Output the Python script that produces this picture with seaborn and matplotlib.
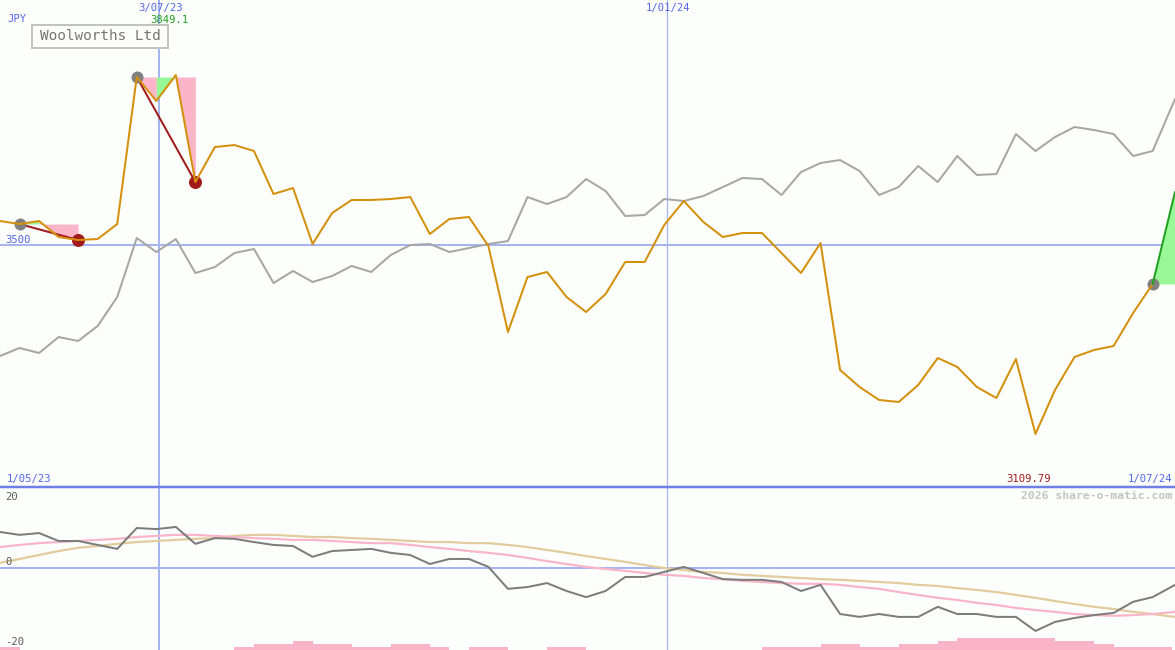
import numpy as np
import pandas as pd
import matplotlib
matplotlib.use("Agg")
import matplotlib.pyplot as plt
import matplotlib.transforms as mtransforms
import matplotlib.dates as mdates
from matplotlib.patches import Rectangle
import seaborn as sns

# ---------------- data ----------------
start_date = "2023-05-07"
latest_date = "2024-07-01"
currency = "JPY"
title = "Woolworths Ltd"

price = [3548.4, 3542.2, 3548.4, 3515.5, 3509.3, 3511.4, 3542.2, 3845.0, 3795.6, 3849.1,
         3628.7, 3700.8, 3704.9, 3692.6, 3604.0, 3616.4, 3501.1, 3564.9, 3591.7, 3591.7,
         3593.7, 3597.8, 3521.7, 3552.5, 3556.7, 3496.9, 3319.8, 3433.1, 3443.4, 3391.9,
         3361.0, 3398.1, 3464.0, 3464.0, 3540.2, 3589.6, 3546.4, 3515.5, 3523.7, 3523.7,
         3482.5, 3441.3, 3503.1, 3241.6, 3206.6, 3179.8, 3175.7, 3210.7, 3266.3, 3247.8,
         3206.6, 3183.9, 3264.2, 3109.8, 3200.4, 3268.4, 3282.8, 3291.0, 3359.0, 3418.7]
latest_price = 3608.2

index_line = [3270.4, 3286.9, 3276.6, 3309.5, 3301.3, 3332.2, 3391.9, 3513.4, 3484.6, 3511.4,
              3441.3, 3453.7, 3482.5, 3490.8, 3420.7, 3445.5, 3422.8, 3435.2, 3455.8, 3443.4,
              3478.4, 3499.0, 3501.1, 3484.6, 3492.8, 3501.1, 3507.2, 3597.8, 3583.4, 3597.8,
              3634.9, 3610.2, 3558.7, 3560.8, 3593.7, 3589.6, 3599.9, 3618.4, 3637.0, 3634.9,
              3602.0, 3649.3, 3667.9, 3674.0, 3651.4, 3602.0, 3618.4, 3661.7, 3628.7, 3682.3,
              3643.2, 3645.2, 3727.6, 3692.6, 3721.4, 3742.0, 3735.8, 3727.6, 3682.3, 3692.6,
              3799.7]

momentum = [10.0, 9.2, 9.7, 7.5, 7.5, 6.4, 5.3, 11.1, 10.8, 11.4,
            6.7, 8.3, 8.1, 7.2, 6.4, 6.1, 3.1, 4.7, 5.0, 5.3,
            4.2, 3.6, 1.1, 2.5, 2.5, 0.3, -5.8, -5.3, -4.2, -6.4,
            -8.1, -6.4, -2.5, -2.5, -1.1, 0.3, -1.4, -3.1, -3.3, -3.3,
            -3.9, -6.4, -4.7, -12.8, -13.6, -12.8, -13.6, -13.6, -10.8, -12.8,
            -12.8, -13.6, -13.6, -17.5, -15.0, -13.9, -13.1, -12.5, -9.4, -8.1,
            -4.7]

ma_fast = [5.8, 6.4, 6.9, 7.2, 7.5, 7.8, 8.1, 8.6, 8.9, 9.2,
           9.2, 8.9, 8.6, 8.3, 8.1, 7.8, 7.8, 7.5, 7.2, 6.9,
           6.9, 6.4, 5.8, 5.3, 4.7, 4.2, 3.6, 2.8, 1.9, 1.1,
           0.3, -0.3, -0.8, -1.4, -1.9, -2.2, -2.8, -3.1, -3.6, -3.9,
           -4.2, -4.4, -4.4, -4.7, -5.3, -5.8, -6.7, -7.5, -8.3, -8.9,
           -9.7, -10.3, -11.1, -11.7, -12.2, -12.8, -13.1, -13.3, -13.1, -12.8,
           -12.2]

ma_slow = [1.4, 2.5, 3.6, 4.7, 5.6, 6.1, 6.7, 7.2, 7.5, 7.8,
           8.1, 8.3, 8.9, 9.2, 9.2, 8.9, 8.6, 8.6, 8.3, 8.1,
           7.8, 7.5, 7.2, 7.2, 6.9, 6.9, 6.4, 5.8, 5.0, 4.2,
           3.3, 2.5, 1.7, 0.8, 0.0, -0.6, -1.1, -1.4, -1.9, -2.2,
           -2.5, -2.8, -3.1, -3.3, -3.6, -3.9, -4.2, -4.7, -5.0, -5.6,
           -6.1, -6.7, -7.5, -8.3, -9.2, -10.0, -10.8, -11.4, -12.2, -12.8,
           -13.6]

volume = [1, 0, 0, 0, 0, 0, 0, 0, 0, 0,
          0, 0, 1, 2, 2, 3, 2, 2, 1, 1,
          2, 2, 1, 0, 1, 1, 0, 0, 1, 1,
          0, 0, 0, 0, 0, 0, 0, 0, 0, 1,
          1, 1, 2, 2, 1, 1, 2, 2, 3, 4,
          4, 4, 4, 4, 3, 3, 2, 1, 1, 1]

events = [(1, 4), (7, 10)]          # (start index, end index) of drops
marker_dates = ["2023-07-03", "2024-01-01"]
marker_labels = ["3/07/23", "1/01/24"]
high_label = "3849.1"
low_label = "3109.79"
ref_level = 3500
ref_label = "3500"
start_label = "1/05/23"
end_label = "1/07/24"
lower_ticks = [20, 0, -20]
watermark = "2026 share-o-matic.com"

# ---------------- style ----------------
BG = "#fbfefb"
BLUE_LINE = "#a6b4f2"
BLUE_DARK = "#6e7fe6"
BLUE_TEXT = "#5366e8"
ORANGE = "#d4900a"
GREY = "#a6a6a6"
DGREY = "#7c7c7c"
PINK = "#f9b4c8"
PINK_FILL = "#fbb5c9"
TAN = "#e2cb9c"
GREEN_FILL = "#98f898"
GREEN_LINE = "#20a020"
DARKRED = "#a11b1b"
PX = 0.72  # points per pixel at 100 dpi
tick_offsets = [-1, 6, -2]   # pixel nudges of the lower-panel labels

sns.set_theme(style="white")
plt.rcParams["font.family"] = ["DejaVu Sans Mono", "DejaVu Sans"]

W, H = 1175, 650
TOP_H = 487
fig = plt.figure(figsize=(W / 100, H / 100), dpi=100)
fig.patch.set_facecolor(BG)

ax = fig.add_axes([0, (H - TOP_H) / H, 1, TOP_H / H])
axv = fig.add_axes([0, 0, 1, (H - TOP_H) / H])
axl = axv.twinx()

weeks = pd.date_range(start_date, periods=len(price), freq="7D")
latest = pd.Timestamp(latest_date)
all_dates = weeks.append(pd.DatetimeIndex([latest]))

def num(d):
    return mdates.date2num(pd.Timestamp(d))

for a in (ax, axv, axl):
    for s in a.spines.values():
        s.set_visible(False)
    a.set_xlim(weeks[0], latest)

ax.set_facecolor(BG)
axv.set_facecolor(BG)
axl.patch.set_visible(False)

# ---------------- upper panel ----------------
ax.set_ylim(3000.6, 4003.6)
ax.axhline(ref_level, color=BLUE_LINE, lw=2 * PX, zorder=1)
ax.axvline(pd.Timestamp(marker_dates[0]), color=BLUE_LINE, lw=2 * PX, zorder=1)
ax.axvline(pd.Timestamp(marker_dates[1]), color=BLUE_LINE, lw=1.2 * PX, zorder=1)

# drop shading, coloured by segment direction
for s, e in events:
    base = price[s]
    for i in range(s, e):
        col = GREEN_FILL if price[i + 1] > price[i] else PINK_FILL
        ax.fill_between(weeks[i:i + 2], base, price[i:i + 2], color=col, lw=0, zorder=2)
base = price[-1]
ax.fill_between([weeks[-1], latest], base, [price[-1], latest_price],
                color=GREEN_FILL, lw=0, zorder=2)

sns.lineplot(x=all_dates, y=index_line, ax=ax, color=GREY, lw=2 * PX,
             estimator=None, sort=False, zorder=3)

for s, e in events:
    sns.lineplot(x=[weeks[s], weeks[e]], y=[price[s], price[e]], ax=ax,
                 color=DARKRED, lw=2 * PX, estimator=None, sort=False, zorder=4)
    ax.plot([weeks[s]], [price[s]], "o", color="#808080", ms=12 * PX, mew=0, zorder=5)
    ax.plot([weeks[e]], [price[e]], "o", color=DARKRED, ms=13 * PX, mew=0, zorder=5)

sns.lineplot(x=weeks, y=price, ax=ax, color=ORANGE, lw=2 * PX,
             estimator=None, sort=False, zorder=6)
sns.lineplot(x=[weeks[-1], latest], y=[price[-1], latest_price], ax=ax,
             color=GREEN_LINE, lw=2 * PX, estimator=None, sort=False, zorder=6)
ax.plot([weeks[-1]], [price[-1]], "o", color="#808080", ms=12 * PX, mew=0, zorder=5)

ax.set_xticks([]); ax.set_yticks([])
ax.set_xlabel(""); ax.set_ylabel("")

fs = 7.6
top_y = mtransforms.blended_transform_factory(ax.transData, ax.transAxes)
for d, lab in zip(marker_dates, marker_labels):
    ax.annotate(lab, xy=(num(d), 1), xycoords=top_y, xytext=(1, -8),
                textcoords="offset pixels", ha="center", va="center",
                color=BLUE_TEXT, fontsize=fs)
hi_idx = int(np.argmax(price))
ax.annotate(high_label, xy=(num(weeks[hi_idx]), 1), xycoords=top_y, xytext=(-6, -20),
            textcoords="offset pixels", ha="center", va="center",
            color=GREEN_LINE, fontsize=fs)
lo_idx = int(np.argmin(price))
ax.annotate(low_label, xy=(num(weeks[lo_idx]), 0), xycoords=top_y, xytext=(-7, 8),
            textcoords="offset pixels", ha="center", va="center",
            color=DARKRED, fontsize=fs)
ax.text(7 / W, 1 - 19 / TOP_H, currency, transform=ax.transAxes, ha="left",
        va="center", color=BLUE_TEXT, fontsize=fs)
left_y = mtransforms.blended_transform_factory(ax.transAxes, ax.transData)
ax.annotate(ref_label, xy=(0, ref_level), xycoords=left_y, xytext=(5, 5),
            textcoords="offset pixels", ha="left", va="center",
            color=BLUE_TEXT, fontsize=fs)
ax.text(7 / W, 8 / TOP_H, start_label, transform=ax.transAxes, ha="left",
        va="center", color=BLUE_TEXT, fontsize=fs)
ax.text(1 - 3 / W, 8 / TOP_H, end_label, transform=ax.transAxes, ha="right",
        va="center", color=BLUE_TEXT, fontsize=fs)

# title box
ax.add_patch(Rectangle((32 / W, 1 - 48 / TOP_H), 136 / W, 23 / TOP_H,
                       transform=ax.transAxes, facecolor=BG, edgecolor="#c2c2c2",
                       lw=2 * PX, zorder=7))
ax.text(100 / W, 1 - 36.5 / TOP_H, title, transform=ax.transAxes, ha="center",
        va="center", color="#767676", fontsize=10.4, zorder=8)

# ---------------- lower panel ----------------
axv.bar(weeks, volume, width=7, align="edge", color=PINK, lw=0)
axv.set_ylim(0, (H - TOP_H) / 3)
axv.set_xticks([]); axv.set_yticks([])

axl.set_ylim(-22.8, 22.5)
axl.axhline(0, color=BLUE_LINE, lw=2 * PX, zorder=1)
axl.axvline(pd.Timestamp(marker_dates[0]), color=BLUE_LINE, lw=2 * PX, zorder=1)
axl.axvline(pd.Timestamp(marker_dates[1]), color=BLUE_LINE, lw=1.2 * PX, zorder=1)

sns.lineplot(x=all_dates, y=ma_slow, ax=axl, color=TAN, lw=2.2 * PX,
             estimator=None, sort=False, zorder=2)
sns.lineplot(x=all_dates, y=ma_fast, ax=axl, color=PINK, lw=2.2 * PX,
             estimator=None, sort=False, zorder=3)
sns.lineplot(x=all_dates, y=momentum, ax=axl, color=DGREY, lw=2 * PX,
             estimator=None, sort=False, zorder=4)
axl.set_xticks([]); axl.set_yticks([])
axl.set_xlabel(""); axl.set_ylabel("")

left_yl = mtransforms.blended_transform_factory(axl.transAxes, axl.transData)
for v, off in zip(lower_ticks, tick_offsets):
    axl.annotate(str(v), xy=(0, v), xycoords=left_yl, xytext=(5, off),
                 textcoords="offset pixels", ha="left", va="center",
                 color="#5a5a5a", fontsize=fs)
axl.text(1 - 3 / W, 1 - 9 / (H - TOP_H), watermark, transform=axl.transAxes,
         ha="right", va="center", color="#c4c4c4", fontsize=8.2, fontweight="bold")

# separator line between panels
fig.add_artist(plt.Line2D([0, 1], [(H - TOP_H) / H] * 2, transform=fig.transFigure,
                          color=BLUE_DARK, lw=2.5 * PX))

fig.savefig("out.png", dpi=100, facecolor=BG)
